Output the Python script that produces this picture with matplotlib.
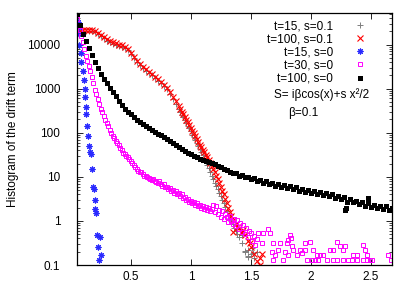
import numpy as np
import matplotlib
matplotlib.use("Agg")
import matplotlib.pyplot as plt

plt.rcParams['font.family'] = ['Liberation Sans', 'DejaVu Sans']

# values, y stored as log10(count)
gray_x = [0.05, 0.075, 0.10, 0.125, 0.15, 0.175, 0.20, 0.225, 0.25, 0.275, 0.30, 0.325, 0.35,
          0.375, 0.40, 0.425, 0.45, 0.475, 0.50, 0.525, 0.55, 0.575, 0.60, 0.625, 0.65, 0.675,
          0.70, 0.725, 0.75, 0.775, 0.80, 0.825, 0.85, 0.875, 0.90, 0.925, 0.95, 0.975, 1.00,
          1.025, 1.05, 1.075, 1.10, 1.125, 1.15, 1.175, 1.20, 1.225, 1.25, 1.275, 1.30, 1.325,
          1.35, 1.375, 1.40, 1.425, 1.45, 1.475, 1.50, 1.525, 1.55,
          1.422, 1.45, 1.478, 1.506, 1.519, 1.478,
          0.9125, 0.9375, 0.9625, 0.9875, 1.0125, 1.0375, 1.0625, 1.0875, 1.1125, 1.1375,
          1.1625, 1.1875, 1.2125, 1.2375, 1.2625, 1.2875, 1.3125, 1.3375, 1.3625, 1.3875]
gray_ly = [4.24, 4.28, 4.30, 4.31, 4.31, 4.30, 4.28, 4.24, 4.19, 4.14, 4.09, 4.05, 4.02,
           4.00, 3.97, 3.95, 3.92, 3.87, 3.79, 3.69, 3.60, 3.53, 3.47, 3.41, 3.35, 3.30,
           3.24, 3.18, 3.12, 3.06, 2.99, 2.88, 2.77, 2.65, 2.53, 2.41, 2.29, 2.16, 2.03,
           1.90, 1.77, 1.63, 1.49, 1.34, 1.19, 1.03, 0.87, 0.72, 0.56, 0.40, 0.22, 0.06,
           -0.08, -0.22, -0.36, -0.50, -0.68, -0.80, -0.75, -0.85, -0.70,
           -0.32, -0.70, -0.66, -0.62, -0.73, -0.81,
           2.47, 2.35, 2.22, 2.10, 1.96, 1.83, 1.70, 1.56, 1.42, 1.27,
           1.11, 0.95, 0.80, 0.64, 0.48, 0.31, 0.14, -0.01, -0.15, -0.29]

red_x = [0.05, 0.075, 0.10, 0.125, 0.15, 0.175, 0.20, 0.225, 0.25, 0.275, 0.30, 0.325, 0.35,
         0.375, 0.40, 0.425, 0.45, 0.475, 0.50, 0.525, 0.55, 0.575, 0.60, 0.625, 0.65, 0.675,
         0.70, 0.725, 0.75, 0.775, 0.80, 0.825, 0.85, 0.875, 0.90, 0.925, 0.95, 0.975, 1.00,
         1.025, 1.05, 1.075, 1.10, 1.125, 1.15, 1.175, 1.20, 1.225, 1.25, 1.275, 1.30, 1.325,
         1.35, 1.375, 1.40, 1.425, 1.45, 1.475, 1.50, 1.525, 1.55, 1.575,
         1.38, 1.353, 1.436, 1.49, 1.589, 1.575,
         0.9125, 0.9375, 0.9625, 0.9875, 1.0125, 1.0375, 1.0625, 1.0875, 1.1125, 1.1375,
         1.1625, 1.1875, 1.2125, 1.2375, 1.2625, 1.2875, 1.3125, 1.3375]
red_ly = [4.27, 4.31, 4.33, 4.34, 4.34, 4.33, 4.31, 4.27, 4.22, 4.17, 4.12, 4.08, 4.05,
          4.03, 4.00, 3.98, 3.95, 3.90, 3.82, 3.72, 3.63, 3.56, 3.50, 3.44, 3.38, 3.33,
          3.27, 3.21, 3.15, 3.09, 3.02, 2.92, 2.82, 2.71, 2.60, 2.48, 2.36, 2.24, 2.11,
          1.99, 1.86, 1.73, 1.62, 1.50, 1.38, 1.25, 1.10, 0.95, 0.78, 0.60, 0.40, 0.20,
          0.02, -0.08, -0.15, -0.25, -0.32, -0.45, -0.60, -0.75, -0.90, -1.0,
          -0.13, -0.24, -0.20, -0.51, -0.74, -0.85,
          2.54, 2.42, 2.30, 2.17, 2.05, 1.92, 1.80, 1.68, 1.56, 1.44,
          1.31, 1.18, 1.02, 0.87, 0.69, 0.50, 0.30, 0.11]

blue_x = [0.058, 0.067, 0.067, 0.067, 0.083, 0.083, 0.10, 0.108, 0.117, 0.117, 0.125, 0.125,
          0.133, 0.142, 0.15, 0.158, 0.167, 0.175, 0.183, 0.192, 0.20, 0.20, 0.208, 0.217,
          0.242, 0.225, 0.25, 0.233]
blue_ly = [4.52, 4.39, 4.23, 4.00, 3.82, 3.61, 3.41, 3.20, 3.00, 2.80, 2.59, 2.43,
           2.16, 1.93, 1.70, 1.57, 1.52, 1.18, 0.77, 0.73, 0.48, 0.27, 0.18, -0.32,
           -0.36, -0.59, -0.77, -0.89]

mag_x = [0.05, 0.0625, 0.075, 0.0875, 0.10, 0.1125, 0.125, 0.1375, 0.15, 0.1625, 0.175, 0.1875,
         0.20, 0.2125, 0.225, 0.2375, 0.25, 0.2625, 0.275, 0.2875, 0.30, 0.3125, 0.325, 0.3375,
         0.35, 0.3625, 0.375, 0.3875, 0.40, 0.4125, 0.425, 0.4375, 0.45, 0.4625, 0.475, 0.4875,
         0.50, 0.5125, 0.525, 0.5375, 0.55, 0.5625, 0.575, 0.5875, 0.60, 0.6125, 0.625, 0.6375,
         0.65, 0.6625, 0.675, 0.6875, 0.70, 0.7125, 0.725, 0.7375, 0.75, 0.7625, 0.775, 0.7875,
         0.80, 0.8125, 0.825, 0.8375, 0.85, 0.8625, 0.875, 0.8875, 0.90, 0.9125, 0.925, 0.9375,
         0.95, 0.9625, 0.975, 0.9875, 1.00, 1.0125, 1.025, 1.0375, 1.05, 1.0625, 1.075, 1.0875,
         1.10, 1.1125, 1.125, 1.1375, 1.15, 1.1625, 1.175, 1.1875, 1.20, 1.2125, 1.225, 1.2375,
         1.25, 1.2625, 1.275, 1.2875, 1.30, 1.3125, 1.325, 1.3375, 1.35, 1.3625, 1.375, 1.3875,
         1.40, 1.4125, 1.425, 1.4375, 1.45, 1.4625, 1.475, 1.4875, 1.50, 1.5125, 1.525, 1.5375,
         1.55,
         1.644, 1.603, 1.658, 1.561, 1.686, 1.589, 1.672, 1.700, 1.686, 1.769, 1.742, 1.728,
         1.783, 1.811, 1.825, 1.833, 1.797, 1.839, 1.853, 1.811, 1.881, 1.908, 1.922, 1.95,
         1.992, 1.95, 1.964, 2.006, 2.033, 2.061, 2.047, 2.019, 2.075, 2.103, 2.131, 2.158,
         2.186, 2.214, 2.186, 2.219, 2.242, 2.269, 2.283, 2.269, 2.311, 2.353, 2.381, 2.339,
         2.381, 2.436, 2.45, 2.464, 2.436, 2.464, 2.492, 2.506, 2.644, 2.67]
mag_ly = [4.57, 4.45, 4.34, 4.20, 4.05, 3.89, 3.73, 3.62, 3.52, 3.40, 3.27, 3.12,
          2.98, 2.88, 2.76, 2.65, 2.55, 2.46, 2.38, 2.30, 2.23, 2.15, 2.07, 2.00,
          1.93, 1.88, 1.82, 1.77, 1.72, 1.66, 1.60, 1.55, 1.52, 1.47, 1.44, 1.40,
          1.37, 1.32, 1.27, 1.22, 1.18, 1.14, 1.11, 1.10, 1.06, 1.03, 1.01, 0.99,
          0.98, 0.96, 0.93, 0.94, 0.90, 0.88, 0.86, 0.90, 0.84, 0.80, 0.83, 0.76,
          0.77, 0.72, 0.74, 0.68, 0.70, 0.64, 0.68, 0.60, 0.63, 0.56, 0.60, 0.52,
          0.55, 0.48, 0.50, 0.44, 0.46, 0.40, 0.43, 0.36, 0.40, 0.33, 0.36, 0.30,
          0.34, 0.28, 0.32, 0.24, 0.30, 0.22, 0.27, 0.36, 0.20, 0.33, 0.16, 0.25,
          0.10, 0.22, 0.05, 0.15, 0.08, -0.02, 0.12, 0.00, -0.08, 0.05, -0.12, 0.02,
          -0.18, -0.05, -0.25, -0.10, -0.30, -0.15, -0.36, -0.22, -0.28, -0.45, -0.35, -0.55,
          -0.40,
          -0.19, -0.28, -0.28, -0.28, -0.51, -0.51, -0.70, -0.77, -0.89, -0.89, -0.51, -0.66,
          -0.70, -0.43, -0.32, -0.39, -0.51, -0.58, -0.66, -0.77, -0.77, -0.66, -0.73, -0.51,
          -0.47, -0.66, -0.89, -0.89, -0.89, -0.89, -0.77, -0.66, -0.77, -0.77, -0.89, -0.66,
          -0.66, -0.89, -0.89, -0.47, -0.58, -0.66, -0.58, -0.89, -0.89, -0.77, -0.77, -0.89,
          -0.89, -0.55, -0.66, -0.77, -0.89, -0.89, -0.89, -0.89, -0.77, -0.89]

black_x = [0.05, 0.075, 0.10, 0.125, 0.15, 0.175, 0.20, 0.225, 0.25, 0.275, 0.30, 0.325, 0.35,
           0.375, 0.40, 0.425, 0.45, 0.475, 0.50, 0.525, 0.55, 0.575, 0.60, 0.625, 0.65, 0.675,
           0.70, 0.725, 0.75, 0.775, 0.80, 0.825, 0.85, 0.875, 0.90, 0.925, 0.95, 0.975, 1.00,
           1.025, 1.05, 1.075, 1.10, 1.125, 1.15, 1.175, 1.20, 1.225, 1.25, 1.275, 1.30, 1.325,
           1.35, 1.375, 1.40, 1.425, 1.45, 1.475, 1.50, 1.525, 1.55, 1.575, 1.60, 1.625, 1.65,
           1.675, 1.70, 1.725, 1.75, 1.775, 1.80, 1.825, 1.85, 1.875, 1.90, 1.925, 1.95, 1.975,
           2.00, 2.025, 2.05, 2.075, 2.10, 2.125, 2.15, 2.175, 2.20, 2.225, 2.25, 2.275, 2.30,
           2.325, 2.35, 2.375, 2.40, 2.425, 2.45, 2.475, 2.50, 2.525, 2.55, 2.575, 2.60, 2.625,
           2.65, 2.675, 2.28, 2.475, 2.29]
black_ly = [4.70, 4.45, 4.25, 4.09, 3.93, 3.76, 3.60, 3.47, 3.34, 3.22, 3.12, 3.02, 2.93,
            2.84, 2.72, 2.63, 2.55, 2.48, 2.42, 2.36, 2.30, 2.25, 2.20, 2.15, 2.11, 2.06,
            2.02, 1.98, 1.94, 1.90, 1.85, 1.82, 1.77, 1.72, 1.68, 1.63, 1.59, 1.55, 1.51,
            1.48, 1.44, 1.40, 1.38, 1.36, 1.33, 1.31, 1.28, 1.25, 1.22, 1.18, 1.15, 1.12,
            1.09, 1.08, 1.03, 1.04, 0.99, 1.00, 0.94, 0.97, 0.90, 0.93, 0.86, 0.90, 0.83,
            0.87, 0.80, 0.83, 0.77, 0.81, 0.74, 0.79, 0.72, 0.76, 0.68, 0.73, 0.66, 0.70,
            0.63, 0.68, 0.61, 0.65, 0.58, 0.63, 0.56, 0.61, 0.53, 0.56, 0.49, 0.54, 0.44,
            0.49, 0.42, 0.46, 0.38, 0.43, 0.34, 0.40, 0.31, 0.36, 0.29, 0.34, 0.27, 0.33,
            0.25, 0.30, 0.25, 0.52, 0.29]

fig = plt.figure(figsize=(4.15, 2.91), dpi=100)
ax = fig.add_axes([0.1855, 0.0893, 0.7591, 0.8660])

ax.plot(gray_x, 10 ** np.array(gray_ly), ls='none', marker='+', ms=4.5, mew=0.7,
        color='#7f7f7f', label='t=15, s=0.1')
ax.plot(red_x, 10 ** np.array(red_ly), ls='none', marker='x', ms=4.2, mew=0.8,
        color='#ff0000', label='t=100, s=0.1')
ax.plot(blue_x, 10 ** np.array(blue_ly), ls='none', marker=(8, 2, 0), ms=4.2, mew=0.8,
        color='#2a2aff', label='t=15, s=0')
ax.plot(mag_x, 10 ** np.array(mag_ly), ls='none', marker='s', ms=3.4, mew=0.7,
        mfc='none', color='#ff00ff', label='t=30, s=0')
ax.plot(black_x, 10 ** np.array(black_ly), ls='none', marker='s', ms=3.6, mew=0,
        color='black', label='t=100, s=0')

ax.set_yscale('log')
ax.set_xlim(0.05, 2.675)
ax.set_ylim(0.1, 52000)
ax.set_xticks([0.5, 1, 1.5, 2, 2.5])
ax.set_xticklabels(['0.5', '1', '1.5', '2', '2.5'])
ax.set_yticks([0.1, 1, 10, 100, 1000, 10000])
ax.set_yticklabels(['0.1', '1', '10', '100', '1000', '10000'])
ax.tick_params(which='both', direction='in', top=True, right=True, labelsize=8.5)
ax.tick_params(which='major', length=4, width=0.6)
ax.tick_params(which='minor', length=2, width=0.5)
ax.tick_params(axis='x', pad=4)
ax.tick_params(axis='y', pad=12)
for lab in ax.get_yticklabels():
    lab.set_family(['Liberation Sans Narrow', 'Liberation Sans'])
for s in ax.spines.values():
    s.set_linewidth(0.9)

ax.set_ylabel('Histogram of the drift term', fontsize=8.5)
ax.yaxis.set_label_coords(-0.185, 0.5)

ax.legend(loc='upper right', bbox_to_anchor=(0.917, 0.972), markerfirst=False,
          frameon=False, fontsize=8.5, handlelength=1.0, handletextpad=1.8,
          labelspacing=0.1, borderpad=0, borderaxespad=0, numpoints=1)

ax.text(0.625, 0.662, 'S= iβcos(x)+s x²/2', transform=ax.transAxes, fontsize=8.5)
ax.text(0.67, 0.592, 'β=0.1', transform=ax.transAxes, fontsize=8.5)

fig.savefig('out.png', dpi=100)
